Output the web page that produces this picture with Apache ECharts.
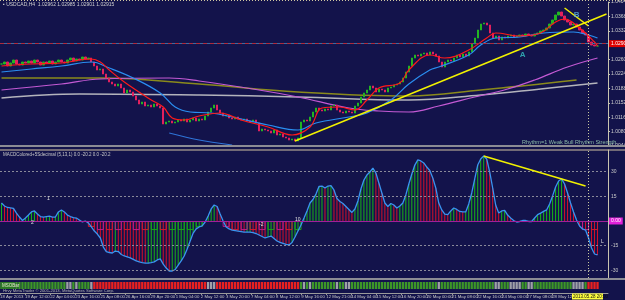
<!DOCTYPE html>
<html>
<head>
<meta charset="utf-8">
<script src="https://cdn.jsdelivr.net/npm/echarts@6/dist/echarts.min.js"></script>
<style>
html, body { margin: 0; padding: 0; background: #13134b; }
#chart { width: 625px; height: 300px; }
</style>
</head>
<body>
<div id="chart"></div>
<script>
// bars are H4 candles, one category per bar (3 empty slots on the right)
const barCount = 203

const closes = [
  1.0249, 1.0254, 1.0244, 1.02515, 1.0259, 1.0249, 1.02465, 1.0254, 1.02515, 1.02565,
  1.02515, 1.0259, 1.0254, 1.02465, 1.0254, 1.02515, 1.02565, 1.0249, 1.0254, 1.0259,
  1.0254, 1.02515, 1.0259, 1.0264, 1.02565, 1.02615, 1.0259, 1.02665, 1.02615, 1.0264,
  1.0254, 1.0244, 1.0234, 1.02365, 1.0224, 1.0214, 1.0204, 1.0199, 1.0194, 1.0199,
  1.0189, 1.01765, 1.0184, 1.0179, 1.0169, 1.0159, 1.0149, 1.0154, 1.0144, 1.01465,
  1.01415, 1.0149, 1.0144, 1.0139, 1.0099, 1.0104, 1.01065, 1.01015, 1.0104, 1.0109,
  1.01065, 1.01115, 1.0104, 1.0109, 1.0114, 1.01065, 1.01115, 1.0109, 1.0119, 1.0129,
  1.0139, 1.01465, 1.0134, 1.01265, 1.0119, 1.01215, 1.0114, 1.01115, 1.01165, 1.01115,
  1.0109, 1.01115, 1.01065, 1.0104, 1.0109, 1.01015, 1.00815, 1.00865, 1.0084, 1.00815,
  1.00765, 1.0084, 1.00715, 1.0074, 1.00665, 1.0064, 1.0059, 1.00615, 1.00565, 1.0064,
  1.0104, 1.0109, 1.01065, 1.01165, 1.0129, 1.0139, 1.0134, 1.01315, 1.01365, 1.0134,
  1.0144, 1.01465, 1.0134, 1.0129, 1.01265, 1.01315, 1.0129, 1.01265, 1.0144, 1.01515,
  1.01665, 1.01765, 1.0184, 1.0194, 1.0189, 1.0179, 1.01865, 1.0184, 1.0179, 1.0189,
  1.01915, 1.01965, 1.0199, 1.0204, 1.0214, 1.0229, 1.0244, 1.0264, 1.02715, 1.0269,
  1.0274, 1.02765, 1.02715, 1.0279, 1.0274, 1.0269, 1.0254, 1.02415, 1.0254, 1.0259,
  1.02565, 1.0264, 1.02715, 1.02665, 1.0274, 1.0269, 1.0279, 1.0299, 1.0314, 1.0334,
  1.0349, 1.03515, 1.03465, 1.03265, 1.0314, 1.0319, 1.0309, 1.03165, 1.0314, 1.0319,
  1.03215, 1.03165, 1.0319, 1.03215, 1.0319, 1.0324, 1.03215, 1.0319, 1.0324, 1.03265,
  1.03315, 1.0334, 1.0339, 1.0349, 1.0359, 1.03715, 1.0379, 1.0369, 1.0359, 1.0354,
  1.03465, 1.0349, 1.03415, 1.0334, 1.03265, 1.03215, 1.0304, 1.02965, 1.0294, 1.0294
]

// [bar index, price]
const redMa = [[0, 1.0244], [10, 1.0249], [20, 1.02515], [30, 1.02615], [33, 1.0254], [36, 1.0234], [41, 1.0204], [50, 1.0159], [54, 1.01415], [57, 1.0114], [61, 1.0109], [66, 1.0119], [73, 1.01265], [80, 1.0109], [89, 1.00915], [97, 1.00715], [103, 1.00915], [107, 1.0139], [113, 1.01415], [118, 1.0134], [122, 1.0159], [126, 1.0189], [133, 1.02015], [136, 1.0234], [143, 1.02715], [148, 1.0264], [156, 1.0284], [162, 1.0314], [165, 1.03265], [173, 1.0319], [180, 1.03265], [185, 1.0354], [188, 1.03615], [193, 1.0339], [198, 1.0304], [199, 1.0294]]
const blueMa = [[0, 1.0229], [10, 1.02365], [20, 1.0244], [30, 1.0254], [36, 1.0239], [44, 1.0214], [53, 1.01765], [58, 1.01415], [63, 1.0129], [70, 1.01265], [77, 1.01165], [89, 1.00965], [99, 1.0084], [105, 1.01015], [116, 1.01165], [122, 1.01265], [130, 1.0159], [136, 1.0199], [143, 1.0234], [146, 1.02415], [156, 1.02715], [160, 1.02965], [165, 1.0314], [173, 1.03165], [181, 1.03265], [191, 1.0329], [196, 1.03215], [199, 1.0314]]
const lowBand = [[56, 1.00765], [66, 1.0059], [77, 1.00465]]
const magentaLine = [[0, 1.0184], [20, 1.0199], [33, 1.02115], [56, 1.0214], [66, 1.02065], [86, 1.0184], [99, 1.01665], [116, 1.0139], [126, 1.01315], [136, 1.0129], [146, 1.0144], [158, 1.01665], [169, 1.01865], [178, 1.0209], [189, 1.02415], [199, 1.0264]]
const oliveLine = [[0, 1.0214], [33, 1.0214], [66, 1.0199], [99, 1.0179], [136, 1.0169], [160, 1.0184], [192, 1.0209]]
const grayLine = [[0, 1.0164], [26, 1.0174], [66, 1.01715], [99, 1.01665], [136, 1.0159], [160, 1.01715], [180, 1.01865], [199, 1.02015]]

const macd = [
  10.9, 9.1, 8.2, 7.9, 7.6, 4.8, 2.4, 0.3, 1.8, 3.6,
  5.5, 6.1, 4.2, 2.7, 2.4, 2.7, 3.0, 2.4, 2.4, 5.5,
  6.7, 5.5, 3.6, 2.7, 2.1, 1.8, 0.6, -0.6, 0, -1.2,
  -3.6, -6.1, -7.9, -10.3, -15.8, -18.5, -19.1, -19.4, -18.2, -18.5,
  -20.3, -21.2, -21.8, -22.4, -23.3, -24.2, -24.8, -25.2, -25.5, -25.5,
  -25.2, -24.8, -23.6, -23.0, -26.1, -28.5, -30.3, -30.3, -29.4, -26.7,
  -24.2, -21.2, -17.0, -12.1, -7.3, -4.8, -3.6, -3.0, -0.6, 3.0,
  7.3, 9.7, 8.8, 4.2, 0, -3.6, -4.8, -5.5, -5.8, -6.1,
  -6.4, -6.7, -6.7, -6.7, -7.0, -7.6, -8.5, -9.4, -10.3, -9.7,
  -9.1, -10.6, -12.1, -13.0, -13.6, -14.2, -14.5, -13.0, -9.7, -6.1,
  -2.4, 1.8, 6.1, 10.9, 13.0, 16.4, 20.9, 21.2, 20.0, 21.2,
  21.5, 18.8, 13.6, 11.8, 10.6, 8.8, 7.0, 5.2, 7.3, 12.1,
  19.4, 24.8, 27.9, 29.7, 32.1, 29.1, 23.0, 17.0, 10.9, 8.8,
  10.6, 9.7, 7.9, 9.1, 10.9, 15.8, 22.4, 28.5, 33.9, 37.0,
  36.4, 35.2, 32.7, 30.6, 26.1, 20.0, 10.9, 6.7, 4.2, 3.9,
  6.1, 7.9, 7.0, 5.8, 5.5, 5.5, 10.3, 17.0, 25.5, 33.9,
  37.6, 39.4, 37.6, 29.7, 20.0, 9.7, 4.8, 6.1, 6.4, 3.6,
  1.8, 0.3, -0.6, -0.3, 0.3, 0.3, -0.3, -0.3, 1.8, 3.9,
  4.8, 5.8, 6.7, 10.3, 15.2, 20.6, 24.2, 25.5, 22.4, 17.0,
  10.9, 5.5, 0.6, -3.0, -4.8, -5.5, -10.3, -16.4, -20.0, -20.6
]

// MSOBar cell states as runs: G green, S grey, R red
const msoRuns = [['G', 22], ['S', 2], ['G', 1], ['S', 1], ['G', 2], ['G', 2], ['S', 1], ['R', 38], ['S', 3], ['R', 28], ['G', 1], ['S', 1], ['G', 1], ['S', 1], ['G', 1], ['G', 7], ['S', 1], ['G', 2], ['S', 2], ['G', 29], ['S', 1], ['G', 18], ['S', 2], ['G', 3], ['S', 4], ['G', 2], ['S', 2], ['G', 13], ['S', 4], ['G', 1], ['R', 4]]

const dateLabels = ['18 Apr 2013', '19 Apr 12:00', '22 Apr 04:00', '23 Apr 16:00', '25 Apr 08:00', '26 Apr 16:00', '29 Apr 20:00', '1 May 04:00', '2 May 12:00', '3 May 20:00', '7 May 04:00', '8 May 12:00', '9 May 16:00', '12 May 21:00', '14 May 04:00', '15 May 12:00', '16 May 20:00', '20 May 00:00', '21 May 08:00', '22 May 16:00', '24 May 00:00', '27 May 08:00', '28 May 12:00']

const priceTicks = { min: 1.0044, max: 1.0404, interval: 0.0036 }
const bidPrice = 1.02905
const askPrice = 1.0295
const macdLevels = [30, 15, -15, -30]

const FONT = 'Liberation Sans'
const UP = '#22b422'
const DOWN = '#e2205e'

const cats = Array.from({ length: barCount }, (_, i) => String(i))
const candles = closes.map((c, i) => {
  const o = i ? closes[i - 1] : c
  return [o, c, Math.min(o, c), Math.max(o, c)]
})
const histData = macd.map((v, i) => ({
  value: v,
  itemStyle: { color: i && v < macd[i - 1] ? '#d4102a' : '#18b418' }
}))
const boxData = macd.map((v, i) => {
  if (v >= -1 || i % 3) return '-'
  const falling = i && v < macd[i - 1]
  return { value: Math.max(v, -5.5), itemStyle: { borderColor: falling ? (i % 2 ? '#c01a8a' : '#d01a30') : '#18a418' } }
})
const msoState = []
msoRuns.forEach(([s, n]) => { for (let k = 0; k < n; k++) msoState.push(s) })
const msoColor = { G: '#3c9628', S: '#a0a0a8', R: '#e82020' }
const msoData = msoState.map(s => ({ value: 1, itemStyle: { color: msoColor[s] } }))

const chart = echarts.init(document.getElementById('chart'), null, { renderer: 'canvas' })

const hiddenCat = gi => ({
  type: 'category', gridIndex: gi, data: cats, boundaryGap: true,
  axisLine: { show: false }, axisTick: { show: false }, axisLabel: { show: false }, splitLine: { show: false }
})
const txt = (x, y, text, size, fill, extra) => ({
  type: 'text', x: x, y: y, silent: true, z: 50,
  style: Object.assign({ text: text, fill: fill, font: size + 'px "' + FONT + '"' }, extra || {})
})
const rect = (x, y, w, h, fill) => ({ type: 'rect', silent: true, z: 40, shape: { x: x, y: y, width: w, height: h }, style: { fill: fill } })

chart.setOption({
  backgroundColor: '#13134b',
  animation: false,
  textStyle: { fontFamily: FONT },
  grid: [
    { left: 0, right: 17, top: 2, height: 144, outerBoundsMode: 'none' },
    { left: 0, right: 17, top: 150, height: 128, outerBoundsMode: 'none' },
    { left: 0, right: 17, top: 282, height: 7, outerBoundsMode: 'none' },
    { left: 0, right: 17, top: 292, height: 1, outerBoundsMode: 'none' }
  ],
  xAxis: [
    hiddenCat(0), hiddenCat(1), hiddenCat(2),
    {
      type: 'value', gridIndex: 3, min: 0, max: 608 / 25.1, interval: 1,
      axisLine: { lineStyle: { color: '#9a9a9a' } },
      axisTick: { length: 2, lineStyle: { color: '#9a9a9a' } },
      splitLine: { show: false },
      axisLabel: {
        align: 'left', fontSize: 4.3, margin: 2, color: '#c8c8c8', showMinLabel: true, showMaxLabel: false, hideOverlap: false,
        formatter: v => dateLabels[Math.round(v)] || ''
      }
    },
    hiddenCat(1)
  ],
  yAxis: [
    {
      type: 'value', gridIndex: 0, position: 'right', scale: true,
      min: priceTicks.min, max: priceTicks.max, interval: priceTicks.interval,
      axisLine: { show: true, lineStyle: { color: '#c8c4b0' } },
      axisTick: { show: true, length: 2, lineStyle: { color: '#c8c4b0' } },
      splitLine: { show: false },
      axisLabel: { fontSize: 5, margin: 3, color: '#d0d0d0', formatter: v => v.toFixed(5) }
    },
    {
      type: 'value', gridIndex: 1, position: 'right', min: -34.55, max: 43.03,
      axisLine: { show: true, lineStyle: { color: '#c8c4b0' } },
      axisTick: { show: false }, axisLabel: { show: false }, splitLine: { show: false }
    },
    { type: 'value', gridIndex: 2, min: 0, max: 1, show: false },
    { type: 'value', gridIndex: 3, min: 0, max: 1, show: false }
  ],
  series: [
    {
      type: 'line', xAxisIndex: 0, yAxisIndex: 0, data: grayLine, smooth: 0.4, symbol: 'none',
      lineStyle: { color: '#b4b4bc', width: 1.5 }, z: 2
    },
    {
      type: 'line', xAxisIndex: 0, yAxisIndex: 0, data: oliveLine, smooth: 0.4, symbol: 'none',
      lineStyle: { color: '#8a8a1c', width: 1.5 }, z: 2
    },
    {
      type: 'line', xAxisIndex: 0, yAxisIndex: 0, data: magentaLine, smooth: 0.4, symbol: 'none',
      lineStyle: { color: '#c45ad4', width: 1.2 }, z: 2
    },
    {
      type: 'line', xAxisIndex: 0, yAxisIndex: 0, data: lowBand, smooth: 0.3, symbol: 'none',
      lineStyle: { color: '#2f74d8', width: 1.2 }, z: 2
    },
    {
      type: 'candlestick', xAxisIndex: 0, yAxisIndex: 0, data: candles, barWidth: 1.8, z: 3,
      itemStyle: { color: UP, color0: DOWN, borderColor: UP, borderColor0: DOWN, borderWidth: 1 },
      markLine: {
        silent: true, symbol: ['none', 'none'], animation: false,
        label: { show: false },
        data: [
          { yAxis: askPrice, lineStyle: { color: '#3c6ca0', type: 'solid', width: 1 } },
          {
            yAxis: bidPrice, lineStyle: { color: '#b02a3a', type: [4, 3], width: 1 },
            label: { show: true, position: 'end', distance: 1, formatter: bidPrice.toFixed(5), fontSize: 5, color: '#ffffff', backgroundColor: '#e00000', padding: [1, 2] }
          },
          [{ coord: [98, 1.00565], lineStyle: { color: '#f2f200', width: 1.5, type: 'solid' } }, { coord: [202, 1.0374] }],
          [{ coord: [188, 1.0389], lineStyle: { color: '#f2f200', width: 1.5, type: 'solid' } }, { coord: [196, 1.0344] }],
          { xAxis: 195.5, lineStyle: { color: '#c8c8a0', type: [1, 2], width: 1 } }
        ]
      }
    },
    {
      type: 'line', xAxisIndex: 0, yAxisIndex: 0, data: blueMa, smooth: 0.4, symbol: 'none',
      lineStyle: { color: '#2a8ef0', width: 1.2 }, z: 4
    },
    {
      type: 'line', xAxisIndex: 0, yAxisIndex: 0, data: redMa, smooth: 0.4, symbol: 'none',
      lineStyle: { color: '#ff1a1a', width: 1.2 }, z: 4
    },
    {
      type: 'scatter', xAxisIndex: 0, yAxisIndex: 0, symbolSize: 1, z: 5,
      itemStyle: { color: 'transparent' },
      label: { show: true, position: 'inside', fontSize: 8, fontWeight: 'bold', formatter: p => p.value[2] },
      data: [
        { value: [174, 1.02715, 'A'], label: { color: '#36c6c6' } },
        { value: [192, 1.03715, 'B'], label: { color: '#5ab4e0' } }
      ]
    },
    {
      type: 'bar', xAxisIndex: 1, yAxisIndex: 1, data: histData, barWidth: 1, z: 2,
      markLine: {
        silent: true, symbol: ['none', 'none'], animation: false,
        label: { show: true, position: 'end', distance: 3, fontSize: 5, color: '#c8c8c8' },
        data: macdLevels.map(v => ({ yAxis: v, label: { formatter: String(v) }, lineStyle: { color: '#8a8a9a', type: [2, 2], width: 1 } })).concat([
          { yAxis: 0, lineStyle: { color: '#a0209a', type: 'solid', width: 1 }, label: { formatter: '0.00', color: '#ffffff', backgroundColor: '#e020d8', padding: [1, 2], distance: 1 } },
          { yAxis: 42.6, lineStyle: { opacity: 0 }, label: { formatter: '42.6' } },
          { yAxis: -33.7, lineStyle: { opacity: 0 }, label: { formatter: '-33.7' } },
          { xAxis: 195.5, lineStyle: { color: '#c8c8a0', type: [1, 2], width: 1 }, label: { show: false } }
        ])
      }
    },
    {
      type: 'bar', xAxisIndex: 4, yAxisIndex: 1, data: boxData, barWidth: 7, z: 2,
      itemStyle: { color: 'transparent', borderWidth: 1 }
    },
    {
      type: 'line', xAxisIndex: 1, yAxisIndex: 1, data: macd, symbol: 'none', z: 3,
      lineStyle: { color: '#3a94f0', width: 1.3 },
      markLine: {
        silent: true, symbol: ['none', 'none'], animation: false, label: { show: false },
        data: [[{ coord: [161, 39.4], lineStyle: { color: '#f2f200', width: 1.5, type: 'solid' } }, { coord: [195, 21.2] }]]
      }
    },
    {
      type: 'bar', xAxisIndex: 2, yAxisIndex: 2, data: msoData, barCategoryGap: '22%', z: 2
    }
  ],
  graphic: [
    { type: 'line', silent: true, z: 40, shape: { x1: 0, y1: 0.5, x2: 625, y2: 0.5 }, style: { stroke: '#cfc6a0', lineDash: [1, 2], lineWidth: 1 } },
    rect(0, 145, 625, 2, '#8c8c94'),
    rect(0, 149.5, 625, 1, '#d4c4a4'),
    rect(0, 278, 625, 2, '#8c8c94'),
    rect(1, 282, 13, 7, '#2c7a26'),
    txt(2, 283.5, 'MSOBar', 4.5, '#e8e8d0'),
    txt(3, 2, '\u25aa USDCAD,H4  1.02962 1.02985 1.02901 1.02915', 5, '#cfcfcf'),
    txt(522, 139.5, 'Rhythm=1 Weak Bull Rhythm Strength', 5.5, '#8cbca8'),
    txt(3, 152, 'MACDColored+5Sdecimal (5,13,1) 0.0 -20.2 0.0 -20.2', 4.5, '#c8c8c8'),
    txt(3, 289, 'Hrvy MetaTrader \u00a9 2001-2013, MetaQuotes Software Corp.', 4.2, '#b8b8b8'),
    txt(47, 196, '1', 5, '#e0e0e0'),
    txt(31, 220, '2', 5, '#e0e0e0'),
    txt(259, 222, '-2', 5, '#e0e0e0'),
    txt(295, 217, '10', 5, '#e0e0e0'),
    txt(601, 239, 'L', 5, '#e0e0e0'),
    rect(572, 293.5, 31, 6, '#ffff3c'),
    txt(573, 294.5, '2013.05.28 20:00', 4.5, '#101010')
  ]
})
</script>
</body>
</html>
